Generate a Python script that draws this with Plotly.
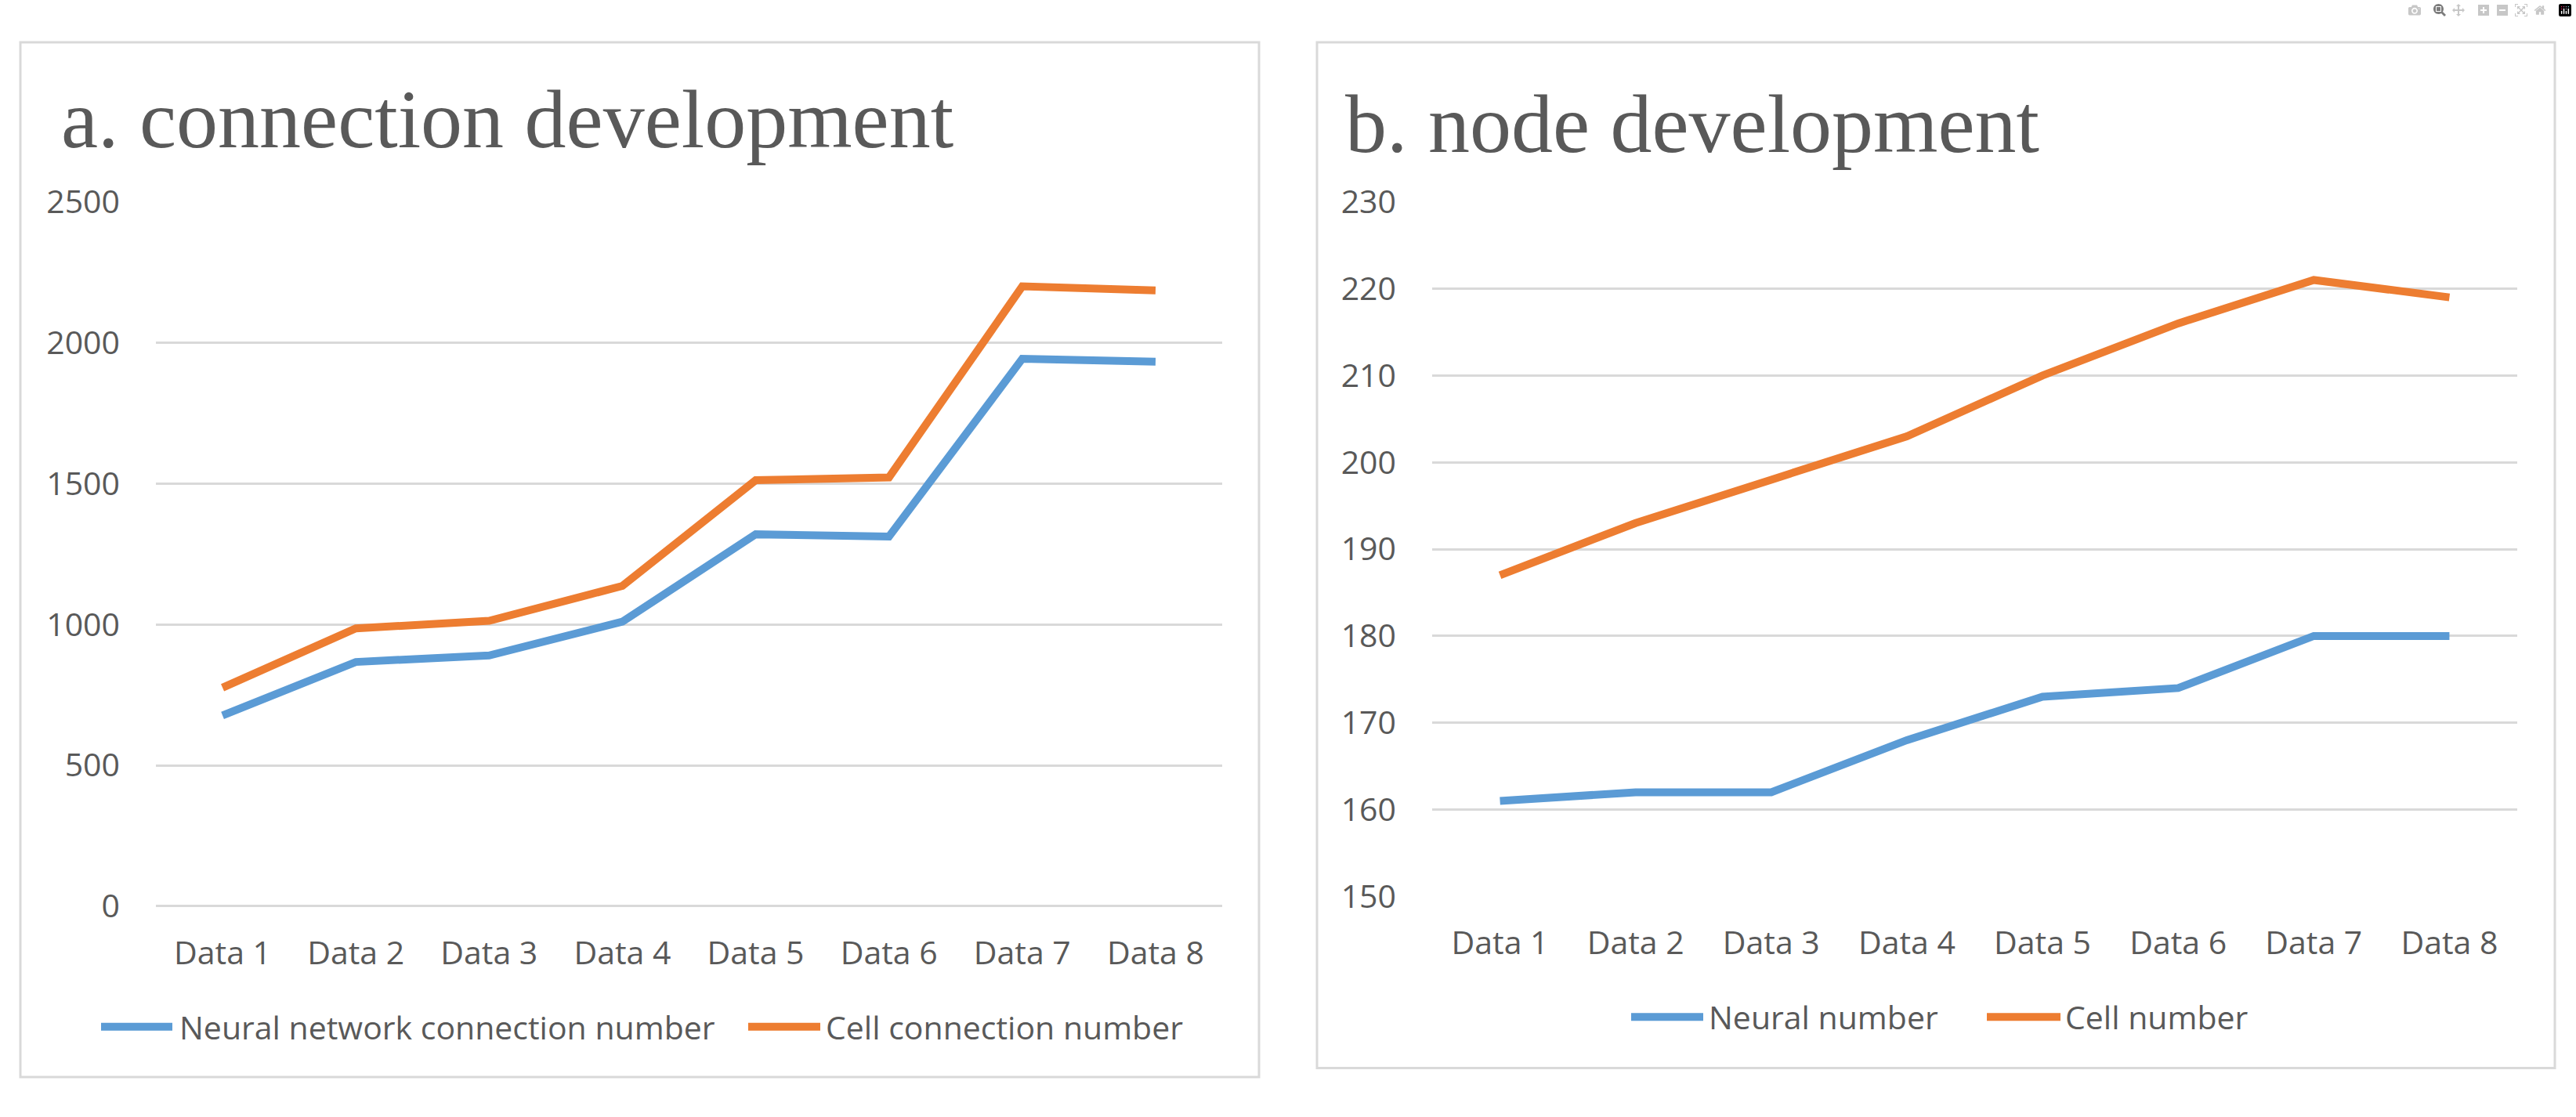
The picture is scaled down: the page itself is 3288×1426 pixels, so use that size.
import plotly.graph_objects as go

# ---------------- data ----------------
categories = ["Data 1", "Data 2", "Data 3", "Data 4", "Data 5", "Data 6", "Data 7", "Data 8"]

neural_connection = [677, 867, 890, 1010, 1320, 1312, 1943, 1933]
cell_connection = [776, 986, 1013, 1137, 1512, 1522, 2200, 2186]

neural_number = [161, 162, 162, 168, 173, 174, 180, 180]
cell_number = [187, 193, 198, 203, 210, 216, 221, 219]

left_title = "a. connection development"
right_title = "b. node development"
left_names = ["Neural network connection number", "Cell connection number"]
right_names = ["Neural number", "Cell number"]

# ---------------- style ----------------
W, H = 3288, 1426
BLUE = "#5B9BD5"
ORANGE = "#ED7D31"
GRID = "#D9D9D9"
TXT = "#595959"
SANS = "Open Sans, sans-serif"
SERIF = "Liberation Serif, Times New Roman, serif"
TICK_SIZE = 41
LW = 10


def px(x):
    return x / W


def py(y):
    return 1 - y / H


fig = go.Figure()

fig.add_trace(go.Scatter(x=categories, y=neural_connection, name=left_names[0], mode="lines",
                         line=dict(color=BLUE, width=LW), xaxis="x", yaxis="y", showlegend=False))
fig.add_trace(go.Scatter(x=categories, y=cell_connection, name=left_names[1], mode="lines",
                         line=dict(color=ORANGE, width=LW), xaxis="x", yaxis="y", showlegend=False))
fig.add_trace(go.Scatter(x=categories, y=neural_number, name=right_names[0], mode="lines",
                         line=dict(color=BLUE, width=LW), xaxis="x2", yaxis="y2", showlegend=False))
fig.add_trace(go.Scatter(x=categories, y=cell_number, name=right_names[1], mode="lines",
                         line=dict(color=ORANGE, width=LW), xaxis="x2", yaxis="y2", showlegend=False))

xcommon = dict(type="category", range=[-0.5, 7.5], showgrid=False, showline=False, zeroline=False,
               ticks="", ticklabelstandoff=32, tickfont=dict(family=SANS, size=TICK_SIZE, color=TXT))
ycommon = dict(showgrid=True, gridcolor=GRID, gridwidth=2.5, showline=False, ticks="",
               ticklabelstandoff=45, tickfont=dict(family=SANS, size=TICK_SIZE, color=TXT))

fig.update_layout(
    width=W, height=H,
    margin=dict(l=0, r=0, t=0, b=0),
    paper_bgcolor="white", plot_bgcolor="white",
    xaxis=dict(domain=[px(199), px(1560)], anchor="y", **xcommon),
    yaxis=dict(domain=[py(1173), py(237)], anchor="x", range=[0, 2500], dtick=500,
               zeroline=True, zerolinecolor=GRID, zerolinewidth=2.5, **ycommon),
    xaxis2=dict(domain=[px(1828), px(3213)], anchor="y2", **xcommon),
    yaxis2=dict(domain=[py(1160), py(237)], anchor="x2", range=[150, 230], dtick=10,
                zeroline=False, **ycommon),
)

shapes = [
    dict(type="rect", xref="paper", yref="paper", x0=px(26), x1=px(1607), y0=py(25), y1=py(1400),
         line=dict(color=GRID, width=3), layer="below"),
    dict(type="rect", xref="paper", yref="paper", x0=px(1681), x1=px(3261), y0=py(25), y1=py(1388),
         line=dict(color=GRID, width=3), layer="below"),
]

annotations = [
    dict(text=left_title, xref="paper", yref="paper", x=px(76), y=py(127), xanchor="left",
         yanchor="middle", showarrow=False, font=dict(family=SERIF, size=106, color=TXT)),
    dict(text=right_title, xref="paper", yref="paper", x=px(1715), y=py(134), xanchor="left",
         yanchor="middle", showarrow=False, font=dict(family=SERIF, size=106, color=TXT)),
]

# manual legends (line sample + label)
legend_items = [
    (129, 220, 1333, 227, BLUE, left_names[0]),
    (955, 1047, 1333, 1052, ORANGE, left_names[1]),
    (2082, 2174, 1320, 2179, BLUE, right_names[0]),
    (2536, 2630, 1320, 2634, ORANGE, right_names[1]),
]
for x0, x1, yy, tx, col, name in legend_items:
    shapes.append(dict(type="line", xref="paper", yref="paper", x0=px(x0), x1=px(x1), y0=py(yy), y1=py(yy),
                       line=dict(color=col, width=LW)))
    annotations.append(dict(text=name, xref="paper", yref="paper", x=px(tx), y=py(yy), xanchor="left",
                            yanchor="middle", showarrow=False, font=dict(family=SANS, size=TICK_SIZE, color=TXT)))

fig.update_layout(shapes=shapes, annotations=annotations)

fig.write_html("out.html", post_script="document.body.style.margin='0';document.body.style.overflow='hidden';")
